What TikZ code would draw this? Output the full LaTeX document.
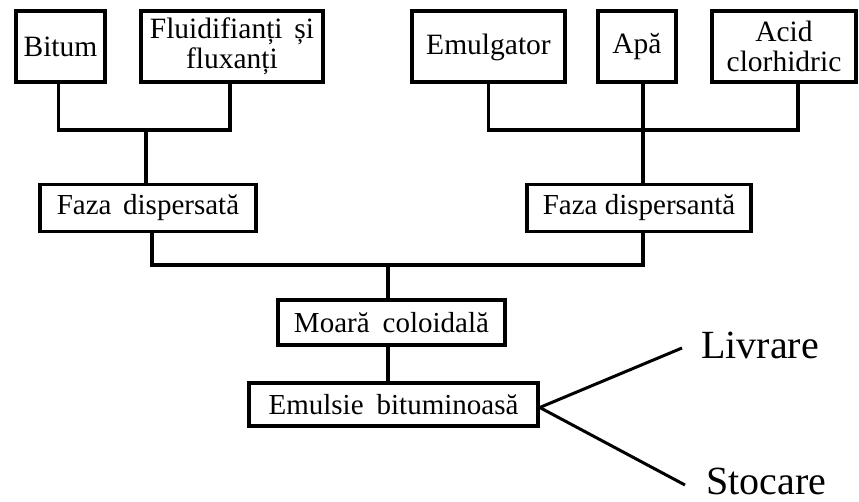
\documentclass[tikz,border=0pt]{standalone}
\usepackage{fontspec}
\setmainfont{Liberation Serif}
\begin{document}
\begin{tikzpicture}[x=1pt,y=-1pt,
  topbox/.style={draw, line width=4pt, inner sep=0pt, minimum height=71pt, align=center, font=\fontsize{29.5}{30}\selectfont},
  midbox/.style={draw, line width=3.5pt, inner sep=0pt, minimum height=47pt, align=center, font=\fontsize{29}{30}\selectfont},
  link/.style={line width=3.5pt},
  outlink/.style={line width=3pt},
  outlabel/.style={inner sep=0pt, anchor=base west, font=\fontsize{40}{42}\selectfont}]
\useasboundingbox (0,0) rectangle (859,502);
% top row
\node[topbox, minimum width=89pt]  (bitum) at (60.5,46.5) {Bitum};
\node[topbox, minimum width=182pt] (fluid) at (232,46.5) {Fluidifianți\hspace{0.4em}și\\fluxanți};
\node[topbox, minimum width=153pt] (emul)  at (488.5,47) {Emulgator};
\node[topbox, minimum width=78pt]  (apa)   at (637,46.5) {Apă};
\node[topbox, minimum width=144pt] (acid)  at (784,46.5) {Acid\\clorhidric};
% phases
\node[midbox, minimum width=216pt] (fdisp) at (148,208) {Faza\hspace{0.15em} dispersată};
\node[midbox, minimum width=224pt] (fdisn) at (639,208) {Faza dispersantă};
\node[midbox, minimum width=227pt, minimum height=45pt] (moara) at (391.5,322.5) {Moară\hspace{0.2em} coloidală};
\node[midbox, minimum width=289pt, minimum height=43pt] (emuls) at (393.5,404.5) {Emulsie\hspace{0.2em} bituminoasă};
% outputs
\node[outlabel] (livr) at (701,359) {Livrare};
\node[outlabel] (stoc) at (706,494) {Stocare};
% junctions
\coordinate (j1) at (146,130);
\coordinate (j2) at (643,130);
\coordinate (j3) at (388,265);
\coordinate (lv) at (682,348);
\coordinate (st) at (685,485);
% connectors
\draw[link] ([xshift=-2pt]bitum.south) |- (j1) -| ([xshift=-2pt]fluid.south);
\draw[link] (j1) -- (j1 |- fdisp.north);
\draw[link] (emul.south) |- (j2) -| ([xshift=14pt]acid.south);
\draw[link] ([xshift=6pt]apa.south) -- (j2) -- (j2 |- fdisn.north);
\draw[link] ([xshift=4pt]fdisp.south) |- (j3) -| ([xshift=4pt]fdisn.south);
\draw[link] (j3) -- (j3 |- moara.north);
\draw[link] (j3 |- moara.south) -- (j3 |- emuls.north);
\draw[outlink] ([yshift=-3pt]emuls.east) -- (lv);
\draw[outlink] ([yshift=-3pt]emuls.east) -- (st);
\end{tikzpicture}
\end{document}
